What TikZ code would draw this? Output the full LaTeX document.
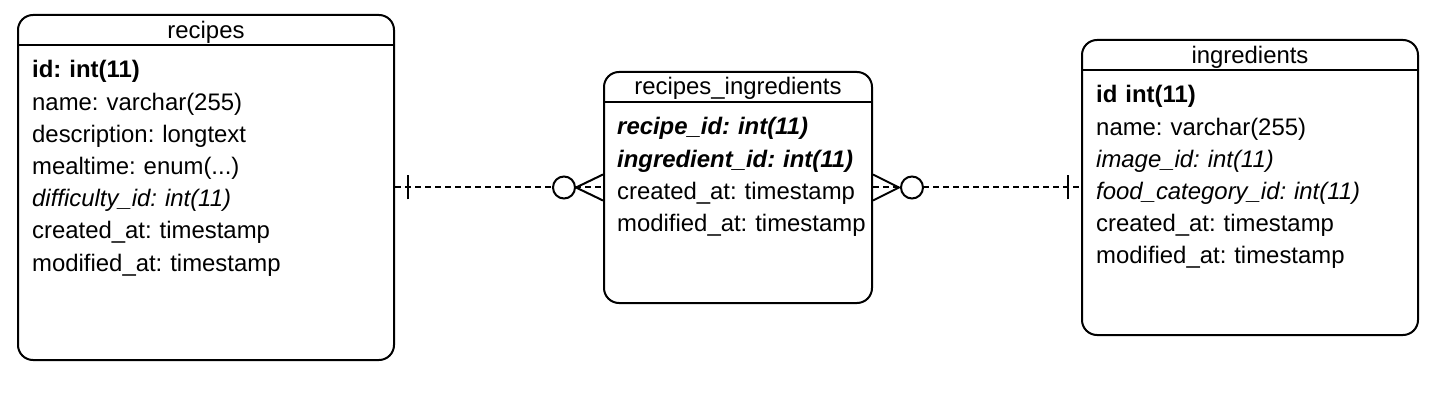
\documentclass[tikz,border=0pt]{standalone}
\usepackage{fontspec}
\setmainfont{Liberation Sans}
\usepackage{tikz}
\usetikzlibrary{positioning}
\frenchspacing

\begin{document}
\begin{tikzpicture}[x=1pt, y=-1pt,
        tablebox/.style={rectangle, rounded corners=15pt, draw=black,
                         line width=2pt, inner sep=0pt},
        tabletitle/.style={anchor=base, inner sep=0pt,
                           font=\fontsize{23.9}{28}\selectfont},
        field/.style={inner sep=0pt, text width=270pt, align=left,
                      text height=22pt, text depth=9.8pt,
                      font=\fontsize{23.9}{28}\selectfont},
        relline/.style={dashed, dash pattern=on 6pt off 4pt, line width=2pt},
        mark line/.style={line width=2pt},
        zerocircle/.style={circle, draw=black, fill=white, line width=2pt,
                           minimum size=22pt, inner sep=0pt}
      ]
        \useasboundingbox (0,0) rectangle (1446,406);

        % recipes
        \node[tablebox, minimum width=376pt, minimum height=345pt] (recipes) at (206,187.5) {};
        \draw[line width=2pt] (recipes.west |- 0,45) -- (recipes.east |- 0,45);
        \node[tabletitle] (rtitle) at (206,39) {recipes};
        \node[field, anchor=base west] (rid) at (32,78) {\textbf{id: int(11)}};
        \node[field, below=0pt of rid]   (rname) {name: varchar(255)};
        \node[field, below=0pt of rname] (rdesc) {description: longtext};
        \node[field, below=0pt of rdesc] (rmeal) {mealtime: enum(...)};
        \node[field, below=0pt of rmeal] (rdiff) {\textit{difficulty\_id: int(11)}};
        \node[field, below=0pt of rdiff] (rcre)  {created\_at: timestamp};
        \node[field, below=0pt of rcre]  (rmod)  {modified\_at: timestamp};

        % recipes_ingredients
        \node[tablebox, minimum width=268pt, minimum height=231pt] (ri) at (738,187.5) {};
        \draw[line width=2pt] (ri.west |- 0,102) -- (ri.east |- 0,102);
        \node[tabletitle] (rititle) at (738,95) {recipes\_ingredients};
        \node[field, anchor=base west] (rirec) at (617,135) {\textbf{\textit{recipe\_id: int(11)}}};
        \node[field, below=0pt of rirec] (riing) {\textbf{\textit{ingredient\_id: int(11)}}};
        \node[field, below=0pt of riing] (ricre) {created\_at: timestamp};
        \node[field, below=0pt of ricre] (rimod) {modified\_at: timestamp};

        % ingredients
        \node[tablebox, minimum width=336pt, minimum height=295pt] (ing) at (1250,187.5) {};
        \draw[line width=2pt] (ing.west |- 0,70) -- (ing.east |- 0,70);
        \node[tabletitle] (ititle) at (1250,64) {ingredients};
        \node[field, anchor=base west] (iid) at (1096,103) {\textbf{id int(11)}};
        \node[field, below=0pt of iid]   (iname) {name: varchar(255)};
        \node[field, below=0pt of iname] (iimg)  {\textit{image\_id: int(11)}};
        \node[field, below=0pt of iimg]  (ifood) {\textit{food\_category\_id: int(11)}};
        \node[field, below=0pt of ifood] (icre)  {created\_at: timestamp};
        \node[field, below=0pt of icre]  (imod)  {modified\_at: timestamp};

        % recipes -> recipes_ingredients
        \draw[relline] (recipes.east) -- (ri.west);
        \draw[mark line] ([xshift=13pt, yshift=-12pt]recipes.east) -- ([xshift=13pt, yshift=12pt]recipes.east);
        \draw[mark line] ([yshift=-13pt]ri.west) -- ([xshift=-27pt]ri.west) -- ([yshift=13pt]ri.west);
        \node[zerocircle] (rizero) at ([xshift=-39pt]ri.west) {};

        % ingredients -> recipes_ingredients
        \draw[relline] (ri.east) -- (ing.west);
        \draw[mark line] ([yshift=-13pt]ri.east) -- ([xshift=26pt]ri.east) -- ([yshift=13pt]ri.east);
        \node[zerocircle] (ingzero) at ([xshift=39pt]ri.east) {};
        \draw[mark line] ([xshift=-13pt, yshift=-12pt]ing.west) -- ([xshift=-13pt, yshift=12pt]ing.west);
      \end{tikzpicture}
\end{document}
